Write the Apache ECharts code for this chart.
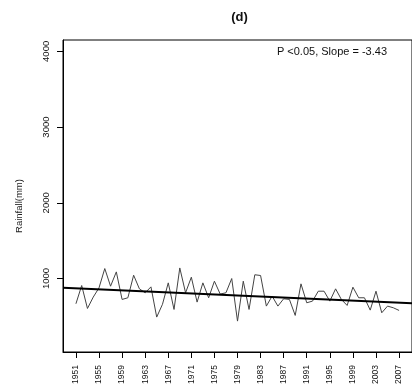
<!DOCTYPE html>
<html>
<head>
<meta charset="utf-8">
<script src="https://cdn.jsdelivr.net/npm/echarts@6/dist/echarts.min.js"></script>
<style>html,body{margin:0;padding:0;background:#fff;}#c{width:412px;height:391px;}</style>
</head>
<body>
<div id="c"></div>
<script>
var years = [1951,1952,1953,1954,1955,1956,1957,1958,1959,1960,1961,1962,1963,1964,1965,1966,1967,1968,1969,1970,1971,1972,1973,1974,1975,1976,1977,1978,1979,1980,1981,1982,1983,1984,1985,1986,1987,1988,1989,1990,1991,1992,1993,1994,1995,1996,1997,1998,1999,2000,2001,2002,2003,2004,2005,2006,2007];
var rainfall = [667,908,605,755,877,1132,899,1088,724,746,1044,864,812,890,491,660,943,592,1140,812,1018,689,943,746,965,795,812,1000,438,965,592,1050,1040,636,768,636,733,724,513,930,680,702,833,833,702,864,724,645,886,746,746,583,833,548,636,614,579];
var trendYears = [1948.76, 2009.24];
var trendValues = [880, 675];
var xTickLabels = [1951,1955,1959,1963,1967,1971,1975,1979,1983,1987,1991,1995,1999,2003,2007];
var yTickLabels = [1000,2000,3000,4000];
var titleText = '(d)';
var yName = 'Rainfall(mm)';
var annotation = 'P <0.05, Slope = -3.43';

var FONT = '"Liberation Sans", Arial, sans-serif';
var chart = echarts.init(document.getElementById('c'), null, {renderer: 'canvas'});
var lineData = years.map(function (y, i) { return [y, rainfall[i]]; });
var trendData = trendYears.map(function (y, i) { return [y, trendValues[i]]; });

chart.setOption({
  animation: false,
  backgroundColor: '#fff',
  grid: {left: 63, top: 40, bottom: 39, right: -4, show: true, borderColor: '#000', borderWidth: 1, backgroundColor: 'transparent'},
  xAxis: {
    type: 'value', min: 1948.76, max: 2009.24,
    axisLine: {show: true, lineStyle: {color: '#000', width: 1}},
    axisTick: {show: true, length: 6, customValues: xTickLabels, lineStyle: {color: '#000'}},
    axisLabel: {customValues: xTickLabels, rotate: 90, margin: 13, fontSize: 8.5, color: '#111', fontFamily: FONT, formatter: function (v) { return String(v); }},
    splitLine: {show: false}
  },
  yAxis: {
    type: 'value', min: 30, max: 4150,
    axisLine: {show: true, lineStyle: {color: '#000', width: 1}},
    axisTick: {show: true, length: 6, customValues: yTickLabels, lineStyle: {color: '#000'}},
    axisLabel: {customValues: yTickLabels, rotate: 90, margin: 12, fontSize: 9.5, color: '#111', fontFamily: FONT, formatter: function (v) { return String(v); }},
    splitLine: {show: false}
  },
  series: [
    {type: 'line', data: lineData, showSymbol: false, lineStyle: {color: '#444', width: 1}, z: 2},
    {type: 'line', data: trendData, showSymbol: false, lineStyle: {color: '#000', width: 2}, z: 3}
  ],
  graphic: [
    {type: 'text', x: 239.5, y: 17, style: {text: titleText, font: 'bold 13px ' + FONT, fill: '#111', textAlign: 'center', textVerticalAlign: 'middle'}},
    {type: 'text', x: 19, y: 206, rotation: Math.PI / 2, style: {text: yName, font: '9.5px ' + FONT, fill: '#222', textAlign: 'center', textVerticalAlign: 'middle'}},
    {type: 'text', x: 387, y: 52, style: {text: annotation, font: '11px ' + FONT, fill: '#111', textAlign: 'right', textVerticalAlign: 'middle'}}
  ]
});
</script>
</body>
</html>
